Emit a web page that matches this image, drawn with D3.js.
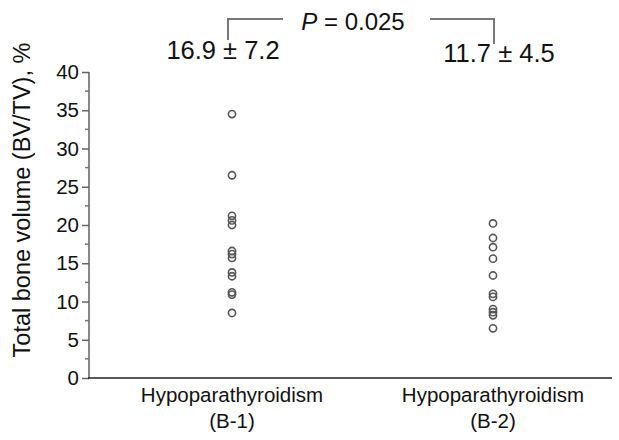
<!DOCTYPE html>
<html><head><meta charset="utf-8">
<script src="https://cdn.jsdelivr.net/npm/d3@7"></script>
<style>body{margin:0;background:#fff}svg{display:block;font-family:"Liberation Sans",Arial,sans-serif}</style>
</head><body>
<script>
const categories = ["Hypoparathyroidism\n(B-1)", "Hypoparathyroidism\n(B-2)"];
const groupB1 = [34.5, 26.5, 21.2, 20.6, 20.0, 16.6, 16.2, 15.7, 13.8, 13.3, 11.2, 10.9, 8.5];
const groupB2 = [20.2, 18.3, 17.1, 15.6, 13.4, 11.0, 10.6, 9.0, 8.6, 8.2, 6.5];
const summaries = ["16.9 \u00b1 7.2", "11.7 \u00b1 4.5"];
const pValue = "0.025";
const yTicks = [0, 5, 10, 15, 20, 25, 30, 35, 40];
const yMinorTicks = [2.5, 7.5, 12.5, 17.5, 22.5, 27.5, 32.5, 37.5];
const yTitle = "Total bone volume (BV/TV), %";

const W = 619, H = 440;
const svg = d3.select("body").append("svg").attr("width", W).attr("height", H);

const y = d3.scaleLinear().domain([0, 40]).range([378, 72]);
const x = d3.scalePoint().domain([0, 1]).range([232, 493]);
const axisX = 89;

// y axis
const yAxis = d3.axisLeft(y).tickValues(yTicks).tickSize(7).tickPadding(3).tickFormat(d3.format("d"));
const gy = svg.append("g").attr("transform", `translate(${axisX},0)`).call(yAxis);
gy.select(".domain").attr("stroke", "#888").attr("stroke-width", 2).attr("d", `M0,${y(40)}V${y(0)}`);
gy.selectAll(".tick line").attr("stroke", "#666").attr("stroke-width", 1.5);
gy.selectAll(".tick text").attr("font-size", 20.5).attr("fill", "#111").attr("font-family", "Liberation Sans, Arial, sans-serif");
svg.append("g").selectAll("line").data(yMinorTicks).join("line")
  .attr("x1", axisX - 4).attr("x2", axisX).attr("y1", d => y(d)).attr("y2", d => y(d))
  .attr("stroke", "#777").attr("stroke-width", 1.5);

// x baseline
svg.append("line").attr("x1", axisX - 1).attr("x2", 612).attr("y1", y(0)).attr("y2", y(0))
  .attr("stroke", "#222").attr("stroke-width", 1.5);

// y title
svg.append("text").attr("transform", `translate(30,200) rotate(-90)`)
  .attr("text-anchor", "middle").attr("font-size", 23.5).attr("fill", "#111").text(yTitle);

// category labels
categories.forEach((c, i) => {
  const lines = c.split("\n");
  const t = svg.append("text").attr("text-anchor", "middle").attr("font-size", 20.5).attr("fill", "#111");
  lines.forEach((l, j) => t.append("tspan").attr("x", x(i)).attr("y", 402 + j * 26).text(l));
});

// points
const groups = [groupB1, groupB2];
groups.forEach((g, i) => {
  svg.append("g").selectAll("circle").data(g).join("circle")
    .attr("cx", x(i)).attr("cy", d => y(d)).attr("r", 3.6)
    .attr("fill", "none").attr("stroke", "#555").attr("stroke-width", 1.6);
});

// summaries
const sumX = [x(0) - 9, x(1) + 6];
const sumY = [59, 62];
summaries.forEach((s, i) => {
  svg.append("text").attr("x", sumX[i]).attr("y", sumY[i]).attr("text-anchor", "middle")
    .attr("font-size", 25.5).attr("fill", "#111").text(s);
});

// bracket
const bx1 = 228, bx2 = 494, by = 19;
svg.append("path").attr("d", `M${bx1},40V${by}H283`).attr("fill", "none").attr("stroke", "#777").attr("stroke-width", 2);
svg.append("path").attr("d", `M430,${by}H${bx2}V44`).attr("fill", "none").attr("stroke", "#777").attr("stroke-width", 2);
const pt = svg.append("text").attr("x", 353).attr("y", 30).attr("text-anchor", "middle").attr("font-size", 24).attr("fill", "#111");
pt.append("tspan").attr("font-style", "italic").text("P");
pt.append("tspan").text(" = " + pValue);
</script>
</body></html>
